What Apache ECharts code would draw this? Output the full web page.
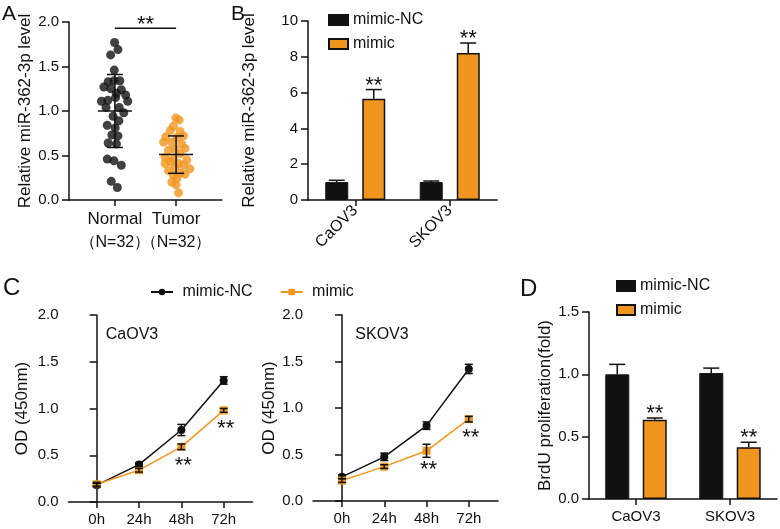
<!DOCTYPE html>
<html><head><meta charset="utf-8">
<script src="https://cdn.jsdelivr.net/npm/echarts@6/dist/echarts.min.js"></script>
<style>html,body{margin:0;padding:0;background:#fff}#c{width:780px;height:529px}</style>
</head><body><div id="c"></div>
<script>
// ---------- Panel A data ----------
const groupsA = ['Normal', 'Tumor'];
const groupSubA = ['（N=32）', '（N=32）'];
const normalVals = [1.77,1.69,1.63,1.46,1.33,1.34,1.34,1.27,1.25,1.24,1.20,1.18,1.11,1.12,1.15,1.11,1.04,1.04,0.98,0.94,0.89,0.84,0.81,0.73,0.72,0.64,0.63,0.46,0.44,0.39,0.21,0.14];
const normalJitter = [-0.01,0.10,-0.14,-0.02,-0.22,-0.03,0.16,-0.36,-0.13,0.21,0.05,0.35,-0.44,-0.23,0.02,0.42,-0.29,0.14,0.29,-0.06,0.13,-0.25,0.01,-0.10,0.10,-0.22,0.05,-0.25,-0.03,0.21,-0.12,0.08];
const tumorVals = [0.92,0.90,0.83,0.78,0.77,0.71,0.70,0.72,0.65,0.65,0.63,0.57,0.58,0.56,0.52,0.48,0.46,0.45,0.43,0.41,0.41,0.39,0.37,0.35,0.33,0.30,0.28,0.29,0.24,0.20,0.17,0.08];
const tumorJitter = [-0.01,0.10,-0.09,-0.19,0.13,-0.34,0.02,0.24,-0.14,-0.41,0.18,-0.03,0.29,-0.25,0.13,-0.36,-0.09,0.35,-0.19,0.08,-0.36,0.24,-0.03,0.45,-0.25,0.13,-0.09,0.29,0.02,-0.14,0.00,0.08];
const meanA = [1.00, 0.51];
const sdA = [0.41, 0.21];
const sigA = '**';
const sigLevelA = 1.93;

// ---------- Panel B data ----------
const cellLines = ['CaOV3', 'SKOV3'];
const bNC = [1.00, 1.00];
const bNCErr = [0.10, 0.06];
const bMimic = [5.65, 8.21];
const bMimicErr = [0.52, 0.56];
const bStars = ['**', '**'];

// ---------- Panel C data ----------
const timePoints = ['0h', '24h', '48h', '72h'];
const caoNC = [0.18, 0.40, 0.77, 1.30];
const caoNCErr = [0.02, 0.02, 0.06, 0.04];
const caoMimic = [0.19, 0.34, 0.59, 0.98];
const caoMimicErr = [0.02, 0.02, 0.03, 0.02];
const skNC = [0.26, 0.475, 0.81, 1.42];
const skNCErr = [0.02, 0.04, 0.04, 0.05];
const skMimic = [0.22, 0.37, 0.54, 0.88];
const skMimicErr = [0.02, 0.02, 0.07, 0.03];
const cStars = ['', '', '**', '**'];

// ---------- Panel D data ----------
const dNC = [1.00, 1.01];
const dNCErr = [0.08, 0.04];
const dMimic = [0.635, 0.415];
const dMimicErr = [0.015, 0.04];
const dStars = ['**', '**'];

// ---------- styles ----------
const FONT = 'Liberation Sans, Arial, sans-serif';
const BLACK = '#111111';
const ORANGE = '#F0961E';
const STAR_FS = 22;

// A: groups sit in the 2nd and 4th of five equal bands
const aSlots = ['', '', '', '', ''];
aSlots[1] = groupsA[0];
aSlots[3] = groupsA[1];
const aSub = {};
aSub[groupsA[0]] = groupSubA[0];
aSub[groupsA[1]] = groupSubA[1];
const aPos = i => 1.5 + 2 * i;

function yAxis(gridIndex, max, interval, name, nameGap, dec) {
  return {
    type: 'value', gridIndex, min: 0, max, interval,
    name, nameLocation: 'middle', nameGap,
    nameTextStyle: {fontSize: 17, color: BLACK, fontFamily: FONT},
    axisLine: {show: true, lineStyle: {color: BLACK, width: 1.5}},
    axisTick: {show: true, length: 7, lineStyle: {color: BLACK, width: 1.5}},
    axisLabel: {fontSize: 15, color: BLACK, fontFamily: FONT, margin: 10,
      formatter: v => v.toFixed(dec)},
    splitLine: {show: false}
  };
}
function catX(gridIndex, data, rotate) {
  return {
    type: 'category', gridIndex, data, boundaryGap: true,
    axisLine: {show: true, lineStyle: {color: BLACK, width: 1.5}},
    axisTick: {show: true, alignWithLabel: true, length: 6, lineStyle: {color: BLACK, width: 1.5}},
    axisLabel: {fontSize: rotate ? 16 : 15, color: BLACK, fontFamily: FONT, margin: rotate ? 8 : 10, rotate: rotate || 0, interval: 0},
    splitLine: {show: false}
  };
}
function valX(gridIndex, min, max, ticks, fmt, fs) {
  return {
    type: 'value', gridIndex, min, max,
    axisLine: {show: true, onZero: false, lineStyle: {color: BLACK, width: 1.5}},
    axisTick: {show: true, length: 6, customValues: ticks, lineStyle: {color: BLACK, width: 1.5}},
    axisLabel: {fontSize: fs, color: BLACK, fontFamily: FONT, margin: 10, customValues: ticks,
      formatter: fmt, showMinLabel: true, showMaxLabel: true},
    splitLine: {show: false}
  };
}

function barErr(xi, yi, vals, errs, offset, stars) {
  return {
    type: 'custom', xAxisIndex: xi, yAxisIndex: yi, z: 5, clip: false,
    data: vals.map((v, i) => [i, v, errs[i]]),
    renderItem: function (params, api) {
      const i = api.value(0), v = api.value(1), e = api.value(2);
      const p0 = api.coord([i, v]), p1 = api.coord([i, v + e]);
      const cx = p0[0] + offset;
      const ch = [
        {type: 'line', shape: {x1: cx, y1: p0[1], x2: cx, y2: p1[1]}, style: {stroke: BLACK, lineWidth: 1.5}},
        {type: 'line', shape: {x1: cx - 8, y1: p1[1], x2: cx + 8, y2: p1[1]}, style: {stroke: BLACK, lineWidth: 1.5}}
      ];
      const s = stars ? stars[params.dataIndex] : '';
      if (s) ch.push({type: 'text', x: cx, y: p1[1] - 4, style: {text: s, fontSize: STAR_FS, fontFamily: FONT, fill: BLACK, align: 'center', verticalAlign: 'middle'}});
      return {type: 'group', children: ch};
    }
  };
}
function lineErr(xi, yi, vals, errs) {
  return {
    type: 'custom', xAxisIndex: xi, yAxisIndex: yi, z: 4, clip: false,
    data: vals.map((v, i) => [i, v, errs[i]]),
    renderItem: function (params, api) {
      const i = api.value(0), v = api.value(1), e = api.value(2);
      const a = api.coord([i, v + e]), b = api.coord([i, v - e]);
      const cx = a[0];
      return {type: 'group', children: [
        {type: 'line', shape: {x1: cx, y1: a[1], x2: cx, y2: b[1]}, style: {stroke: BLACK, lineWidth: 1.5}},
        {type: 'line', shape: {x1: cx - 4, y1: a[1], x2: cx + 4, y2: a[1]}, style: {stroke: BLACK, lineWidth: 1.5}},
        {type: 'line', shape: {x1: cx - 4, y1: b[1], x2: cx + 4, y2: b[1]}, style: {stroke: BLACK, lineWidth: 1.5}}
      ]};
    }
  };
}
function lineStars(xi, yi, vals) {
  return {
    type: 'custom', xAxisIndex: xi, yAxisIndex: yi, z: 6, clip: false,
    data: vals.map((v, i) => [i, v]),
    renderItem: function (params, api) {
      const s = cStars[params.dataIndex];
      if (!s) return null;
      const p = api.coord([api.value(0), api.value(1)]);
      return {type: 'text', x: p[0] + 2, y: p[1] + 19, style: {text: s, fontSize: STAR_FS, fontFamily: FONT, fill: BLACK, align: 'center', verticalAlign: 'middle'}};
    }
  };
}
function lineSeries(name, xi, yi, vals, color, symbol) {
  return {
    type: 'line', name, xAxisIndex: xi, yAxisIndex: yi,
    data: vals.map((v, i) => [i, v]),
    symbol, symbolSize: 8, showAllSymbol: true,
    lineStyle: {color, width: 1.5}, itemStyle: {color}, z: 3
  };
}
function barSeries(name, xi, yi, vals, color, bw, width, gap) {
  return {
    type: 'bar', name, xAxisIndex: xi, yAxisIndex: yi, data: vals,
    barWidth: width, barGap: gap,
    itemStyle: {color, borderColor: BLACK, borderWidth: bw}
  };
}
const legendText = {fontSize: 16, color: BLACK, fontFamily: FONT};
const stripName = n => n.split(':')[1];

const option = {
  animation: false,
  backgroundColor: '#ffffff',
  textStyle: {fontFamily: FONT},
  grid: [
    {left: 69, top: 22, width: 153, height: 178, outerBoundsMode: 'none'},
    {left: 308, top: 21, width: 189, height: 179, outerBoundsMode: 'none'},
    {left: 68.5, top: 315, width: 184, height: 187, outerBoundsMode: 'none'},
    {left: 313, top: 315, width: 185, height: 186, outerBoundsMode: 'none'},
    {left: 589, top: 312, width: 188, height: 187, outerBoundsMode: 'none'}
  ],
  xAxis: [
    {
      type: 'category', gridIndex: 0, data: aSlots, boundaryGap: true,
      axisLine: {show: true, lineStyle: {color: BLACK, width: 1.5}},
      axisTick: {show: true, alignWithLabel: true, length: 6, interval: (i, v) => v !== '', lineStyle: {color: BLACK, width: 1.5}},
      axisLabel: {interval: 0, margin: 8, color: BLACK, fontFamily: FONT,
        formatter: v => (v ? '{a|' + v + '}\n{b|' + aSub[v] + '}' : ''),
        rich: {a: {fontSize: 17, lineHeight: 23, fontFamily: FONT, color: BLACK},
               b: {fontSize: 16, lineHeight: 23, fontFamily: FONT, color: BLACK}}},
      splitLine: {show: false}
    },
    catX(1, cellLines, 45),
    valX(2, -0.665, 3.68, [0, 1, 2, 3], v => timePoints[Math.round(v)], 15),
    valX(3, -0.685, 3.69, [0, 1, 2, 3], v => timePoints[Math.round(v)], 15),
    catX(4, cellLines, 0),
    {type: 'value', gridIndex: 0, min: 0, max: 5, show: false}
  ],
  yAxis: [
    yAxis(0, 2, 0.5, 'Relative miR-362-3p level', 31, 1),
    yAxis(1, 10, 2, 'Relative miR-362-3p level', 50, 0),
    yAxis(2, 2, 0.5, 'OD (450nm)', 38, 1),
    yAxis(3, 2, 0.5, 'OD (450nm)', 33, 1),
    yAxis(4, 1.5, 0.5, 'BrdU proliferation(fold)', 31, 1)
  ],
  legend: [
    {data: ['B:mimic-NC', 'B:mimic'], formatter: stripName, left: 328, top: 12, orient: 'vertical',
     itemWidth: 19, itemHeight: 10, itemGap: 8, icon: 'rect', textStyle: legendText, padding: 0, selectedMode: false},
    {data: ['C:mimic-NC', 'C:mimic'], formatter: n => ' ' + stripName(n), left: 150, top: 284, orient: 'horizontal',
     itemWidth: 22, itemHeight: 8, itemGap: 27, textStyle: legendText, padding: 0, selectedMode: false},
    {data: ['D:mimic-NC', 'D:mimic'], formatter: stripName, left: 616, top: 278, orient: 'vertical',
     itemWidth: 18, itemHeight: 10, itemGap: 8, icon: 'rect', textStyle: legendText, padding: 0, selectedMode: false}
  ],
  graphic: [
    {type: 'text', x: 2, y: 4, style: {text: 'A', fontSize: 21, fontFamily: FONT, fill: BLACK}},
    {type: 'text', x: 231, y: 4, style: {text: 'B', fontSize: 21, fontFamily: FONT, fill: BLACK}},
    {type: 'text', x: 3, y: 276, style: {text: 'C', fontSize: 24, fontFamily: FONT, fill: BLACK}},
    {type: 'text', x: 520, y: 277, style: {text: 'D', fontSize: 24, fontFamily: FONT, fill: BLACK}},
    {type: 'text', x: 132, y: 335, style: {text: cellLines[0], fontSize: 16, fontFamily: FONT, fill: BLACK, align: 'center', verticalAlign: 'middle'}},
    {type: 'text', x: 382, y: 335, style: {text: cellLines[1], fontSize: 16, fontFamily: FONT, fill: BLACK, align: 'center', verticalAlign: 'middle'}}
  ],
  series: [
    // Panel A
    {type: 'scatter', xAxisIndex: 5, yAxisIndex: 0, symbolSize: 9, itemStyle: {color: BLACK}, z: 2,
     data: normalVals.map((v, i) => [aPos(0) + normalJitter[i], v])},
    {type: 'scatter', xAxisIndex: 5, yAxisIndex: 0, symbolSize: 9, itemStyle: {color: ORANGE}, z: 2,
     data: tumorVals.map((v, i) => [aPos(1) + tumorJitter[i], v])},
    {type: 'custom', xAxisIndex: 5, yAxisIndex: 0, z: 5, clip: false,
     data: meanA.map((m, i) => [aPos(i), m, sdA[i]]),
     renderItem: function (params, api) {
       const x = api.value(0), m = api.value(1), s = api.value(2);
       const pm = api.coord([x, m]), pu = api.coord([x, m + s]), pl = api.coord([x, m - s]);
       const cx = pm[0];
       const st = {stroke: BLACK, lineWidth: 1.5};
       return {type: 'group', children: [
         {type: 'line', shape: {x1: cx, y1: pu[1], x2: cx, y2: pl[1]}, style: st},
         {type: 'line', shape: {x1: cx - 17, y1: pm[1], x2: cx + 17, y2: pm[1]}, style: st},
         {type: 'line', shape: {x1: cx - 8, y1: pu[1], x2: cx + 8, y2: pu[1]}, style: st},
         {type: 'line', shape: {x1: cx - 8, y1: pl[1], x2: cx + 8, y2: pl[1]}, style: st}
       ]};
     }},
    {type: 'custom', xAxisIndex: 5, yAxisIndex: 0, z: 5, clip: false,
     data: [[aPos(0), aPos(1), sigLevelA]],
     renderItem: function (params, api) {
       const a = api.coord([api.value(0), api.value(2)]), b = api.coord([api.value(1), api.value(2)]);
       return {type: 'group', children: [
         {type: 'line', shape: {x1: a[0], y1: a[1], x2: b[0], y2: b[1]}, style: {stroke: BLACK, lineWidth: 1.5}},
         {type: 'text', x: (a[0] + b[0]) / 2, y: a[1] - 3, style: {text: sigA, fontSize: STAR_FS, fontFamily: FONT, fill: BLACK, align: 'center', verticalAlign: 'middle'}}
       ]};
     }},
    // Panel B
    barSeries('B:mimic-NC', 1, 1, bNC, BLACK, 1, 23, '61%'),
    barSeries('B:mimic', 1, 1, bMimic, ORANGE, 1.5, 23, '61%'),
    barErr(1, 1, bNC, bNCErr, -18.5, null),
    barErr(1, 1, bMimic, bMimicErr, 18.5, bStars),
    // Panel C left
    lineSeries('C:mimic-NC', 2, 2, caoNC, BLACK, 'circle'),
    lineSeries('C:mimic', 2, 2, caoMimic, ORANGE, 'rect'),
    lineErr(2, 2, caoNC, caoNCErr),
    lineErr(2, 2, caoMimic, caoMimicErr),
    lineStars(2, 2, caoMimic),
    // Panel C right
    lineSeries('C:mimic-NC', 3, 3, skNC, BLACK, 'circle'),
    lineSeries('C:mimic', 3, 3, skMimic, ORANGE, 'rect'),
    lineErr(3, 3, skNC, skNCErr),
    lineErr(3, 3, skMimic, skMimicErr),
    lineStars(3, 3, skMimic),
    // Panel D
    barSeries('D:mimic-NC', 4, 4, dNC, BLACK, 1, 24, '56%'),
    barSeries('D:mimic', 4, 4, dMimic, ORANGE, 1.5, 24, '56%'),
    barErr(4, 4, dNC, dNCErr, -18.75, null),
    barErr(4, 4, dMimic, dMimicErr, 18.75, dStars)
  ]
};
const chart = echarts.init(document.getElementById('c'), null, {renderer: 'canvas'});
chart.setOption(option);
</script></body></html>
